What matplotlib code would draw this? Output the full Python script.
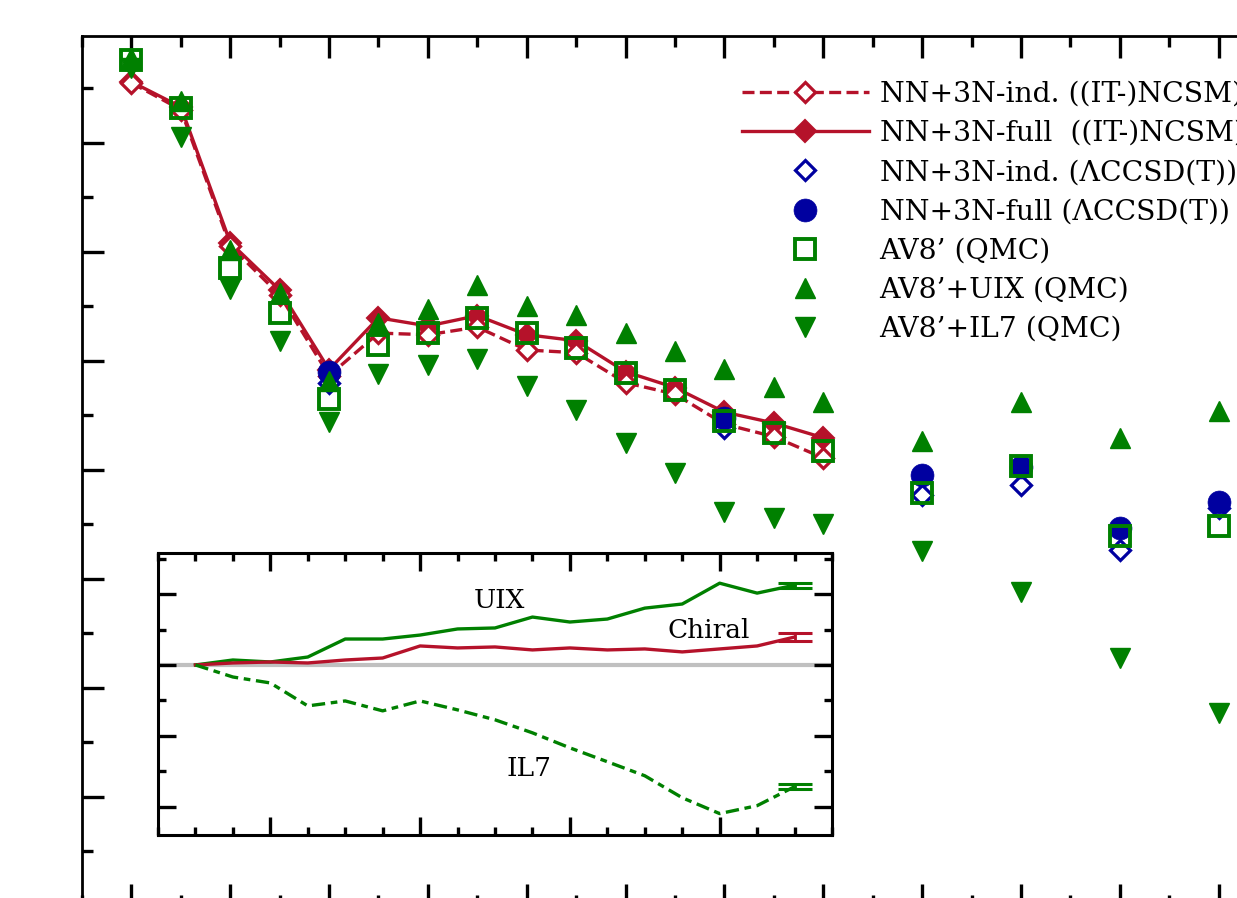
import matplotlib
matplotlib.use('Agg')
import matplotlib.pyplot as plt
from matplotlib.ticker import MultipleLocator

plt.rcParams['font.family'] = ['DejaVu Serif', 'DejaVu Sans']

# ---------------- data (main panel) ----------------
N_ncsm = [2, 3, 4, 5, 6, 7, 8, 9, 10, 11, 12, 13, 14, 15, 16]
ncsm_full = [0.4112, 0.4066, 0.3817, 0.3730, 0.3584, 0.3679, 0.3664, 0.3683,
             0.3648, 0.3637, 0.3580, 0.3551, 0.3506, 0.3486, 0.3459]
ncsm_ind = [0.4110, 0.4061, 0.3811, 0.3721, 0.3573, 0.3651, 0.3648, 0.3662,
            0.3620, 0.3615, 0.3560, 0.3539, 0.3484, 0.3461, 0.3422]

N_cc = [6, 14, 18, 20, 22, 24]
cc_full = [0.3580, 0.3495, 0.3391, 0.3406, 0.3294, 0.3341]
cc_ind = [0.3560, 0.3477, 0.3354, 0.3373, 0.3253, 0.3330]

N_qmc = [2, 3, 4, 5, 6, 7, 8, 9, 10, 11, 12, 13, 14, 15, 16, 18, 20, 22, 24]
av8 = [0.4152, 0.4064, 0.3771, 0.3688, 0.3530, 0.3629, 0.3651, 0.3679, 0.3651,
       0.3624, 0.3578, 0.3547, 0.3490, 0.3468, 0.3435, 0.3358, 0.3407, 0.3279, 0.3297]
av8_uix = [0.4156, 0.4077, 0.3804, 0.3725, 0.3563, 0.3670, 0.3695, 0.3739, 0.3701,
           0.3684, 0.3651, 0.3618, 0.3585, 0.3552, 0.3525, 0.3453, 0.3525, 0.3459, 0.3508]
av8_il7 = [0.4138, 0.4011, 0.3732, 0.3637, 0.3488, 0.3576, 0.3593, 0.3604, 0.3554,
           0.3510, 0.3450, 0.3395, 0.3323, 0.3312, 0.3301, 0.3251, 0.3176, 0.3055, 0.2954]

# ---------------- data (inset) ----------------
N_inset = [2, 3, 4, 5, 6, 7, 8, 9, 10, 11, 12, 13, 14, 15, 16, 17, 18]
rel_uix = [0, 0.35, 0.21, 0.56, 1.83, 1.83, 2.11, 2.54, 2.61, 3.38, 3.03, 3.24,
           4.01, 4.30, 5.77, 5.07, 5.63]
rel_chiral = [0, 0.14, 0.21, 0.14, 0.35, 0.49, 1.34, 1.20, 1.27, 1.06, 1.20, 1.06,
              1.13, 0.92, 1.13, 1.34, 1.97]
rel_il7 = [0, -0.85, -1.27, -2.89, -2.54, -3.24, -2.54, -3.17, -3.87, -4.79, -5.85,
           -6.83, -7.82, -9.37, -10.49, -9.93, -8.59]
err_last = {'uix': 0.18, 'chiral': 0.25, 'il7': 0.18}

labels = ["NN+3N-ind. ((IT-)NCSM)", "NN+3N-full  ((IT-)NCSM)",
          "NN+3N-ind. (\u039bCCSD(T))", "NN+3N-full (\u039bCCSD(T))",
          "AV8\u2019 (QMC)", "AV8\u2019+UIX (QMC)", "AV8\u2019+IL7 (QMC)"]

RED = '#b5122a'
GREEN = '#008000'
BLUE = '#0000a0'

W, H = 1237, 898
fig = plt.figure(figsize=(W / 100, H / 100), dpi=100)

# main axes extends past the right/bottom edges (cropped figure)
L, T, R, B = 82, 36, 1268, 906
ax = fig.add_axes([L / W, 1 - B / H, (R - L) / W, (B - T) / H])
ax.set_xlim(1, 25)
ax.set_ylim(0.26, 0.4196)

lw = 2.4
h_full, = ax.plot(N_ncsm, ncsm_full, '-', color=RED, lw=lw, marker='D', ms=11,
                  mfc=RED, mec=RED, mew=1.5, zorder=3)
h_ind, = ax.plot(N_ncsm, ncsm_ind, color=RED, lw=lw, dashes=(3.6, 1.6), marker='D',
                 ms=10.5, mfc='white', mec=RED, mew=2.3, zorder=4)
h_ccind, = ax.plot(N_cc, cc_ind, ls='none', marker='D', ms=10.5, mfc='white',
                   mec=BLUE, mew=2.3, zorder=5)
h_ccfull, = ax.plot(N_cc, cc_full, ls='none', marker='o', ms=16.5, mfc=BLUE,
                    mec=BLUE, mew=0.5, zorder=6)
h_av8, = ax.plot(N_qmc, av8, ls='none', marker='s', ms=15, mfc='none', mec=GREEN,
                 mew=2.8, zorder=7)
h_uix, = ax.plot(N_qmc, av8_uix, ls='none', marker='^', ms=14, mfc=GREEN, mec=GREEN,
                 mew=1, zorder=8)
h_il7, = ax.plot(N_qmc, av8_il7, ls='none', marker='v', ms=14, mfc=GREEN, mec=GREEN,
                 mew=1, zorder=9)

ax.xaxis.set_major_locator(MultipleLocator(2))
ax.xaxis.set_minor_locator(MultipleLocator(1))
ax.yaxis.set_major_locator(MultipleLocator(0.02))
ax.yaxis.set_minor_locator(MultipleLocator(0.01))
ax.tick_params(which='both', direction='in', top=True, right=True,
               labelleft=False, labelbottom=False, width=2.4)
ax.tick_params(which='major', length=16)
ax.tick_params(which='minor', length=8)
for s in ax.spines.values():
    s.set_linewidth(2)

leg = ax.legend([h_ind, h_full, h_ccind, h_ccfull, h_av8, h_uix, h_il7], labels,
                loc='upper left', bbox_to_anchor=(742 / W, 1 - 81 / H),
                bbox_transform=fig.transFigure, frameon=False, fontsize=20.3,
                handlelength=4.5, handletextpad=0.38, labelspacing=0.43,
                borderpad=0, borderaxespad=0, numpoints=1)

# ---------------- inset ----------------
iL, iT, iR, iB = 158, 553, 832, 835
ins = fig.add_axes([iL / W, 1 - iB / H, (iR - iL) / W, (iB - iT) / H])
ins.set_xlim(1, 19)
ins.set_ylim(-12, 7.9)
ins.axhline(0, color='#c0c0c0', lw=3, zorder=1)
ilw = 2.4
ins.plot(N_inset, rel_uix, '-', color=GREEN, lw=ilw, zorder=3)
ins.plot(N_inset, rel_chiral, '-', color=RED, lw=ilw, zorder=3)
ins.plot(N_inset, rel_il7, color=GREEN, lw=ilw, dashes=(4.0, 1.7, 2.0, 1.7), zorder=3)
ins.errorbar([N_inset[-1]], [rel_uix[-1]], yerr=[err_last['uix']], color=GREEN,
             capsize=12, capthick=2.2, elinewidth=2, ls='none', zorder=4)
ins.errorbar([N_inset[-1]], [rel_chiral[-1]], yerr=[err_last['chiral']], color=RED,
             capsize=12, capthick=2.2, elinewidth=2, ls='none', zorder=4)
ins.errorbar([N_inset[-1]], [rel_il7[-1]], yerr=[err_last['il7']], color=GREEN,
             capsize=12, capthick=2.2, elinewidth=2, ls='none', zorder=4)
ins.text(10.13, 4.52, 'UIX', fontsize=19, ha='center', va='center')
ins.text(15.72, 2.40, 'Chiral', fontsize=19, ha='center', va='center')
ins.text(10.91, -7.34, 'IL7', fontsize=19, ha='center', va='center')

ins.xaxis.set_major_locator(MultipleLocator(4))
ins.xaxis.set_minor_locator(MultipleLocator(1))
ins.yaxis.set_major_locator(MultipleLocator(5))
ins.yaxis.set_minor_locator(MultipleLocator(2.5))
ins.tick_params(which='both', direction='in', top=True, right=True,
                labelleft=False, labelbottom=False, width=2.4)
ins.tick_params(which='major', length=13)
ins.tick_params(which='minor', length=5.5)
for s in ins.spines.values():
    s.set_linewidth(2.2)

fig.savefig('out.png', dpi=100)
